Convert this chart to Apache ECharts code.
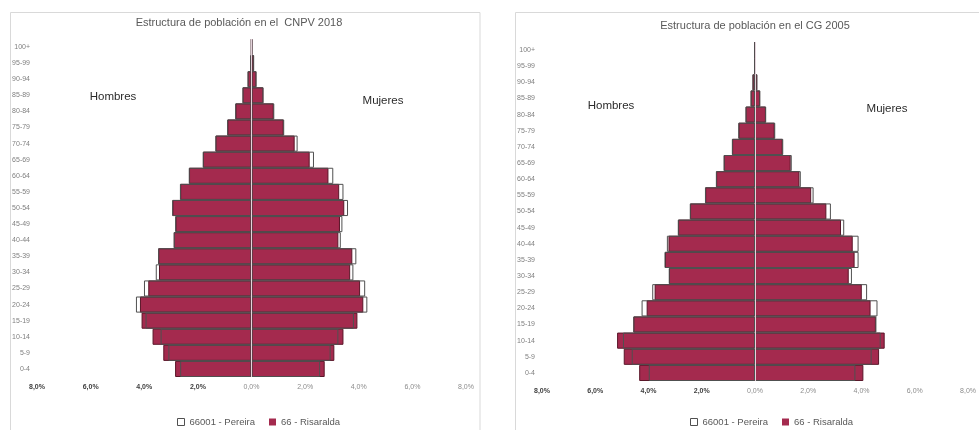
<!DOCTYPE html>
<html>
<head>
<meta charset="utf-8">
<script src="https://cdn.jsdelivr.net/npm/echarts@6/dist/echarts.min.js"></script>
<style>
html,body{margin:0;padding:0;background:#fff;}
#c{width:979px;height:430px;}
</style>
</head>
<body>
<div id="c"></div>
<script>
const categories = ['0-4','5-9','10-14','15-19','20-24','25-29','30-34','35-39','40-44','45-49','50-54','55-59','60-64','65-69','70-74','75-79','80-84','85-89','90-94','95-99','100+'];
const xTicks = [-8,-6,-4,-2,0,2,4,6,8];

// CNPV 2018 (percent)
const ris2018Men   = [2.85,3.29,3.69,4.10,4.16,3.85,3.45,3.48,2.90,2.83,2.95,2.66,2.33,1.81,1.34,0.90,0.60,0.33,0.14,0.04,0.01];
const per2018Men   = [2.66,3.10,3.39,3.95,4.31,4.01,3.57,3.48,2.90,2.85,2.96,2.67,2.34,1.82,1.35,0.91,0.61,0.34,0.15,0.05,0.01];
const ris2018Women = [2.73,3.09,3.43,3.95,4.17,4.05,3.68,3.76,3.24,3.30,3.46,3.27,2.87,2.17,1.61,1.20,0.83,0.44,0.18,0.09,0.02];
const per2018Women = [2.56,2.95,3.24,3.82,4.32,4.24,3.80,3.91,3.33,3.39,3.60,3.43,3.05,2.33,1.72,1.22,0.85,0.45,0.19,0.10,0.02];

// CG 2005 (percent)
const ris2005Men   = [4.35,4.93,5.18,4.57,4.07,3.77,3.23,3.38,3.25,2.89,2.44,1.87,1.46,1.17,0.86,0.62,0.35,0.16,0.09,0.02,0.01];
const per2005Men   = [3.99,4.63,4.96,4.57,4.26,3.86,3.24,3.40,3.31,2.90,2.45,1.88,1.47,1.18,0.87,0.63,0.36,0.17,0.10,0.03,0.01];
const ris2005Women = [4.07,4.66,4.87,4.54,4.34,4.01,3.52,3.74,3.67,3.23,2.68,2.11,1.67,1.34,1.04,0.74,0.41,0.19,0.08,0.03,0.01];
const per2005Women = [3.77,4.38,4.72,4.56,4.60,4.21,3.64,3.89,3.89,3.35,2.85,2.20,1.72,1.38,1.06,0.76,0.42,0.20,0.09,0.03,0.01];

const PER = '66001 - Pereira';
const RIS = '66 - Risaralda';
const FONT = 'Liberation Sans';
const CRIMSON = '#A42A4E';

function neg(a){ return a.map(v => -v); }

function xAxisDef(gi){
  return {
    gridIndex: gi, type: 'value', min: xTicks[0], max: xTicks[xTicks.length-1], interval: 2,
    axisLine: {show:false}, axisTick: {show:false}, splitLine: {show:false},
    axisLabel: {
      margin: 7,
      formatter: v => {
        const t = Math.abs(v).toFixed(1).replace('.', ',') + '%';
        return v < 0 ? '{b|' + t + '}' : '{n|' + t + '}';
      },
      rich: {
        b: {fontFamily: FONT, fontSize: 7, fontWeight: 'bold', color: '#404040'},
        n: {fontFamily: FONT, fontSize: 7, color: '#8c8c8c'}
      }
    }
  };
}
function yAxisDef(gi){
  return {
    gridIndex: gi, type: 'category', data: categories,
    axisLine: {show:false}, axisTick: {show:false},
    axisLabel: {margin: 7, fontFamily: FONT, fontSize: 7, color: '#7f7f7f'}
  };
}
function risSeries(gi, data, withLine){
  const s = {
    name: RIS, type: 'bar', xAxisIndex: gi, yAxisIndex: gi, data: data,
    barGap: '-100%', barCategoryGap: '0%',
    itemStyle: {color: CRIMSON, borderColor: '#5a1629', borderWidth: 1},
    silent: true, z: 2
  };
  if (withLine) {
    s.markLine = {
      silent: true, symbol: 'none', label: {show:false},
      lineStyle: {color: '#e3d2da', width: 1, type: 'solid'},
      data: [{xAxis: 0}], z: 5
    };
  }
  return s;
}
function perSeries(gi, data){
  return {
    name: PER, type: 'bar', xAxisIndex: gi, yAxisIndex: gi, data: data,
    barGap: '-100%', barCategoryGap: '0%',
    itemStyle: {color: 'rgba(255,255,255,0)', borderColor: '#505050', borderWidth: 1},
    silent: true, z: 3
  };
}
function legendDef(left, top){
  return {
    left: left, top: top, itemGap: 14, itemWidth: 7, itemHeight: 7,
    selectedMode: false,
    textStyle: {fontFamily: FONT, fontSize: 9.5, color: '#595959'},
    data: [
      {name: PER, icon: 'rect', itemStyle: {color: '#ffffff', borderColor: '#505050', borderWidth: 1}},
      {name: RIS, icon: 'rect', itemStyle: {color: CRIMSON, borderWidth: 0}}
    ]
  };
}
function textG(x, y, t, size, color, weight){
  return {type: 'text', x: x, y: y, style: {text: t, fontFamily: FONT, fontSize: size, fill: color, fontWeight: weight || 'normal', align: 'center', verticalAlign: 'middle'}};
}

const chart = echarts.init(document.getElementById('c'), null, {renderer: 'canvas'});
chart.setOption({
  backgroundColor: '#ffffff',
  animation: false,
  grid: [
    {left: 37, width: 429, top: 39, height: 338},
    {left: 542, width: 437, top: 42, height: 339}
  ],
  xAxis: [xAxisDef(0), xAxisDef(1)],
  yAxis: [yAxisDef(0), yAxisDef(1)],
  legend: [legendDef(172, 412), legendDef(685, 412)],
  series: [
    risSeries(0, neg(ris2018Men), true),
    risSeries(0, ris2018Women, false),
    perSeries(0, neg(per2018Men)),
    perSeries(0, per2018Women),
    risSeries(1, neg(ris2005Men), true),
    risSeries(1, ris2005Women, false),
    perSeries(1, neg(per2005Men)),
    perSeries(1, per2005Women)
  ],
  graphic: [
    {type: 'rect', shape: {x: 10.5, y: 12.5, width: 469.5, height: 430}, style: {fill: 'none', stroke: '#d9d9d9', lineWidth: 1}, silent: true},
    {type: 'rect', shape: {x: 515.5, y: 12.5, width: 500, height: 430}, style: {fill: 'none', stroke: '#d9d9d9', lineWidth: 1}, silent: true},
    textG(239, 23, 'Estructura de población en el  CNPV 2018', 11, '#595959'),
    textG(755, 26, 'Estructura de población en el CG 2005', 11, '#595959'),
    textG(113, 97, 'Hombres', 11.5, '#2b2b2b'),
    textG(383, 101, 'Mujeres', 11.5, '#2b2b2b'),
    textG(611, 106, 'Hombres', 11.5, '#2b2b2b'),
    textG(887, 109, 'Mujeres', 11.5, '#2b2b2b')
  ]
});
</script>
</body>
</html>
